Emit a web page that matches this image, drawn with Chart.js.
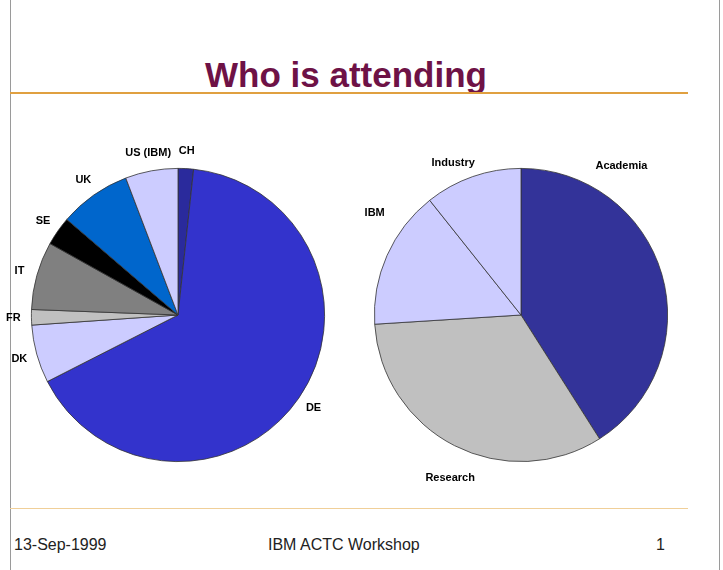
<!DOCTYPE html>
<html>
<head>
<meta charset="utf-8">
<script src="https://cdn.jsdelivr.net/npm/chart.js@4"></script>
<style>
  body { margin: 0; background: #fff; font-family: "Liberation Sans", Arial, sans-serif; }
  #page { position: relative; width: 723px; height: 570px; overflow: hidden; }
  .vline { position: absolute; top: 0; width: 1px; height: 570px; background: #9a9a9a; }
  .hline { position: absolute; left: 10px; width: 678px; }
  #title { position: absolute; left: 0; width: 692px; top: 55px; text-align: center;
           font-size: 35px; font-weight: bold; color: #6e1246; }
  .foot { position: absolute; top: 536px; font-size: 16px; color: #222; }
  canvas { position: absolute; }
</style>
</head>
<body>
<div id="page">
  <div class="vline" style="left:10px"></div>
  <div class="vline" style="left:719px"></div>
  <div id="title">Who is attending</div>
  <div class="hline" style="top:92px;height:2px;background:#e0a040"></div>
  <canvas id="countryChart" width="356" height="360" style="left:0;top:135px"></canvas>
  <canvas id="sectorChart" width="360" height="360" style="left:341px;top:135px"></canvas>
  <div class="hline" style="top:508px;height:1px;background:#f0cf98"></div>
  <div class="foot" style="left:14px">13-Sep-1999</div>
  <div class="foot" style="left:268px">IBM ACTC Workshop</div>
  <div class="foot" style="left:656px">1</div>
</div>
<script>
// attendees by country (share in %), clockwise from 12 o'clock
const countryLabels = ['CH', 'DE', 'DK', 'FR', 'IT', 'SE', 'UK', 'US (IBM)'];
const countryValues = [1.7, 65.8, 6.4, 1.7, 7.5, 3.2, 7.9, 5.8];
const countryColors = ['#2a2a9c', '#3333cc', '#ccccff', '#c0c0c0', '#808080', '#000000', '#0066cc', '#ccccff'];

// attendees by sector (share in %)
const sectorLabels = ['Academia', 'Research', 'IBM', 'Industry'];
const sectorValues = [41, 33, 15.3, 10.7];
const sectorColors = ['#333399', '#c0c0c0', '#ccccff', '#ccccff'];

// draws the slice names outside the pie
const sliceLabels = {
  id: 'sliceLabels',
  afterDatasetsDraw(chart, args, opts) {
    const ctx = chart.ctx;
    const meta = chart.getDatasetMeta(0);
    ctx.save();
    ctx.font = 'bold 11px "Liberation Sans", Arial, sans-serif';
    ctx.fillStyle = '#000';
    ctx.textAlign = 'center';
    ctx.textBaseline = 'middle';
    meta.data.forEach((arc, i) => {
      const p = arc.getProps(['x', 'y', 'startAngle', 'endAngle', 'outerRadius'], true);
      const place = (opts.place && opts.place[i]) || {};
      let ang = (p.startAngle + p.endAngle) / 2;
      if (place.angle !== undefined) ang = (place.angle - 90) * Math.PI / 180;
      const r = p.outerRadius + (place.gap !== undefined ? place.gap : opts.gap);
      ctx.fillText(chart.data.labels[i], p.x + Math.cos(ang) * r, p.y + Math.sin(ang) * r);
    });
    ctx.restore();
  }
};

function makePie(id, labels, values, colors, padding, labelOpts) {
  return new Chart(document.getElementById(id), {
    type: 'pie',
    data: {
      labels: labels,
      datasets: [{
        data: values,
        backgroundColor: colors,
        borderColor: '#333',
        borderWidth: 0.8
      }]
    },
    options: {
      responsive: false,
      animation: false,
      layout: { padding: padding },
      plugins: {
        legend: { display: false },
        tooltip: { enabled: false },
        sliceLabels: labelOpts
      }
    },
    plugins: [sliceLabels]
  });
}

makePie('countryChart', countryLabels, countryValues, countryColors,
  { left: 31, right: 31, top: 33, bottom: 33 },
  { gap: 18 });

makePie('sectorChart', sectorLabels, sectorValues, sectorColors,
  { left: 33, right: 33, top: 33, bottom: 33 },
  { gap: 18, place: [{ angle: 34, gap: 33 }, { angle: 203.5, gap: 31 }, { angle: 305, gap: 32 }, { angle: 336, gap: 20 }] });
</script>
</body>
</html>
